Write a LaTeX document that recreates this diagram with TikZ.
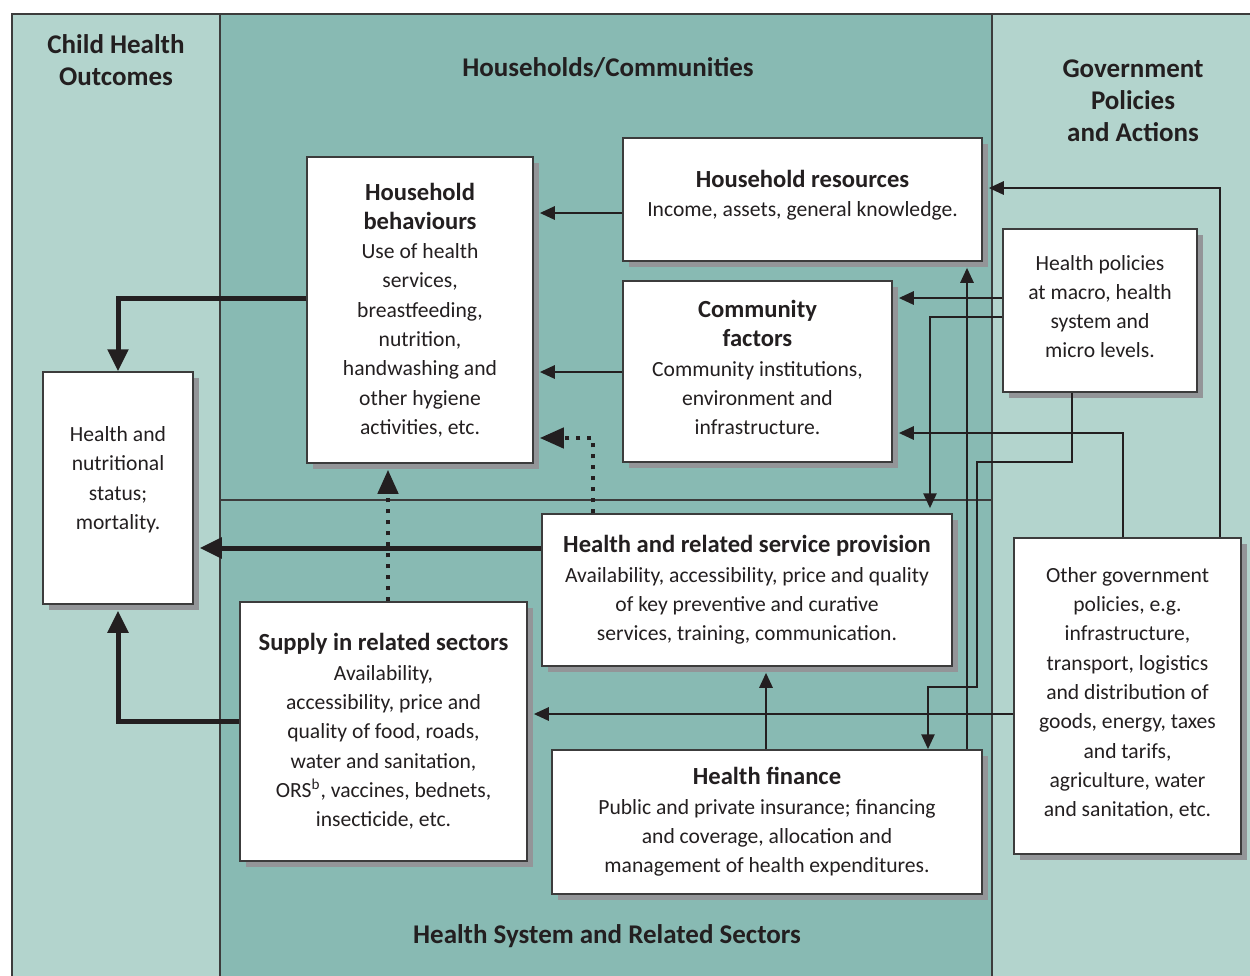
\documentclass[tikz,border=0pt]{standalone}
\usepackage{fontspec}
\setmainfont{Carlito}
\usetikzlibrary{arrows.meta,shadows}
\definecolor{outcometeal}{RGB}{179,212,205}
\definecolor{systemteal}{RGB}{136,186,179}
\definecolor{shadowgray}{RGB}{147,149,152}
\definecolor{inkblack}{RGB}{35,31,32}
\definecolor{edgegray}{RGB}{60,60,60}
\newcommand{\bodysize}{\fontsize{10.8}{14.65}\selectfont}
\newcommand{\headsize}{\fontsize{12.3}{14.65}\selectfont\bfseries}

\begin{document}
\begin{tikzpicture}[x=0.5pt, y=-0.5pt,
    factorbox/.style={draw=edgegray, line width=0.75pt, fill=white, align=center, inner sep=0pt,
        text=inkblack, font=\bodysize,
        drop shadow={shadow xshift=3pt, shadow yshift=-3pt, fill=shadowgray, opacity=1}},
    section/.style={text=inkblack, align=center, font=\fontsize{13.5}{16}\selectfont\bfseries},
    flow/.style={draw=inkblack, line width=1.35pt, -{Triangle[length=7.5pt,width=6.5pt]}},
    strongflow/.style={draw=inkblack, line width=2.5pt, -{Triangle[length=11pt,width=10pt]}},
    dottedflow/.style={draw=inkblack, line width=2.2pt, dash pattern=on 2.3pt off 3.2pt,
        -{Triangle[length=12pt,width=10pt]}},
    frame/.style={draw=edgegray, line width=0.6pt}]
    % Page and clipping
    \fill[white] (0,0) rectangle (1250,976);
    \useasboundingbox (0,0) rectangle (1250,976);
    \clip (0,0) rectangle (1250,976);

    % Column backgrounds
    \fill[outcometeal] (12,14) rectangle (1270,996);
    \fill[systemteal] (220,14) rectangle (992,996);
    \draw[frame] (12,996) -- (12,14) -- (1270,14);
    \draw[frame] (220,14) -- (220,996);
    \draw[frame] (992,14) -- (992,996);
    \draw[frame] (220,500) -- (992,500);

    % Column titles
    \node[section] (outcomes) at (116,60) {Child Health\\Outcomes};
    \node[section] (households) at (608,68) {Households/Communities};
    \node[section] (government) at (1133,101) {Government\\Policies\\and Actions};
    \node[section] (system) at (607,936) {Health System and Related Sectors};

    % Outcome
    \node[factorbox, minimum width=75pt, minimum height=116pt] (status) at (118,488)
        {Health and\\nutritional\\status;\\mortality.\rule[-10pt]{0pt}{0pt}};

    % Households and communities
    \node[factorbox, minimum width=113pt, minimum height=153pt] (behaviour) at (420,310)
        {{\headsize Household}\\{\headsize behaviours}\\Use of health\\services,\\breastfeeding,\\nutrition,\\handwashing and\\other hygiene\\activities, etc.};
    \node[factorbox, minimum width=179.5pt, minimum height=61.5pt] (resources) at (802.5,199.5)
        {{\headsize Household resources}\\Income, assets, general knowledge.\rule[-5.8pt]{0pt}{0pt}};
    \node[factorbox, minimum width=134.5pt, minimum height=90.5pt] (community) at (757.5,371.5)
        {{\headsize Community}\\{\headsize factors}\\Community institutions,\\environment and\\infrastructure.\rule[-4pt]{0pt}{0pt}};

    % Health system and related sectors
    \node[factorbox, minimum width=205pt, minimum height=76pt] (provision) at (747,590)
        {{\headsize Health and related service provision}\\Availability, accessibility, price and quality\\of key preventive and curative\\services, training, communication.};
    \node[factorbox, minimum width=143.5pt, minimum height=129.5pt] (supply) at (383.5,731.5)
        {{\headsize Supply in related sectors}\\Availability,\\accessibility, price and\\quality of food, roads,\\water and sanitation,\\ORS\textsuperscript{b}, vaccines, bednets,\\insecticide, etc.};
    \node[factorbox, minimum width=215pt, minimum height=72pt] (finance) at (767,822)
        {{\headsize Health finance}\\Public and private insurance; financing\\and coverage, allocation and\\management of health expenditures.};

    % Government policies
    \node[factorbox, minimum width=97pt, minimum height=81.5pt] (healthpol) at (1100,310.5)
        {Health policies\\at macro, health\\system and\\micro levels.\rule[-4pt]{0pt}{0pt}};
    \node[factorbox, minimum width=113.5pt, minimum height=158pt] (otherpol) at (1127.5,696)
        {Other government\\policies, e.g.\\infrastructure,\\transport, logistics\\and distribution of\\goods, energy, taxes\\and tarifs,\\agriculture, water\\and sanitation, etc.\rule[-4pt]{0pt}{0pt}};

    % Household level flows
    \draw[flow] (resources.west |- 0,213) -- ([xshift=3pt]behaviour.east |- 0,213);
    \draw[flow] (community.west |- 0,372) -- ([xshift=3pt]behaviour.east |- 0,372);

    % Health policy flows
    \draw[flow] (healthpol.west |- 0,298) -- ([xshift=3pt]community.east |- 0,298);
    \draw[flow] (healthpol.west |- 0,317) -| ([yshift=2.5pt]provision.north -| 930,0);
    \draw[flow] (healthpol.south -| 1072,0) |- (977,462) |- (928,687) -- (finance.north -| 928,0);

    % Other government flows
    \draw[flow] (otherpol.north -| 1220,0) |- ([xshift=3pt]resources.east |- 0,188);
    \draw[flow] (otherpol.north -| 1123,0) |- ([xshift=3pt]community.east |- 0,433);
    \draw[flow] (otherpol.west |- 0,714) -- ([xshift=3pt]supply.east |- 0,714);

    % Finance flows
    \draw[flow] (finance.north -| 967,0) -- ([yshift=-3pt]resources.south -| 967,0);
    \draw[flow] (finance.north -| 766,0) -- ([yshift=-3pt]provision.south -| 766,0);

    % Flows to outcomes
    \draw[strongflow] (behaviour.west |- 0,298) -| (status.north);
    \draw[strongflow] (provision.west |- 0,548) -- ([xshift=3pt]status.east |- 0,548);
    \draw[strongflow] (supply.west |- 0,721) -| ([yshift=-3pt]status.south);

    % Indirect flows
    \draw[dottedflow] (supply.north -| 388,0) -- ([yshift=-3pt]behaviour.south -| 388,0);
    \draw[dottedflow] (provision.north -| 593,0) |- ([xshift=3pt]behaviour.east |- 0,438);
\end{tikzpicture}
\end{document}
